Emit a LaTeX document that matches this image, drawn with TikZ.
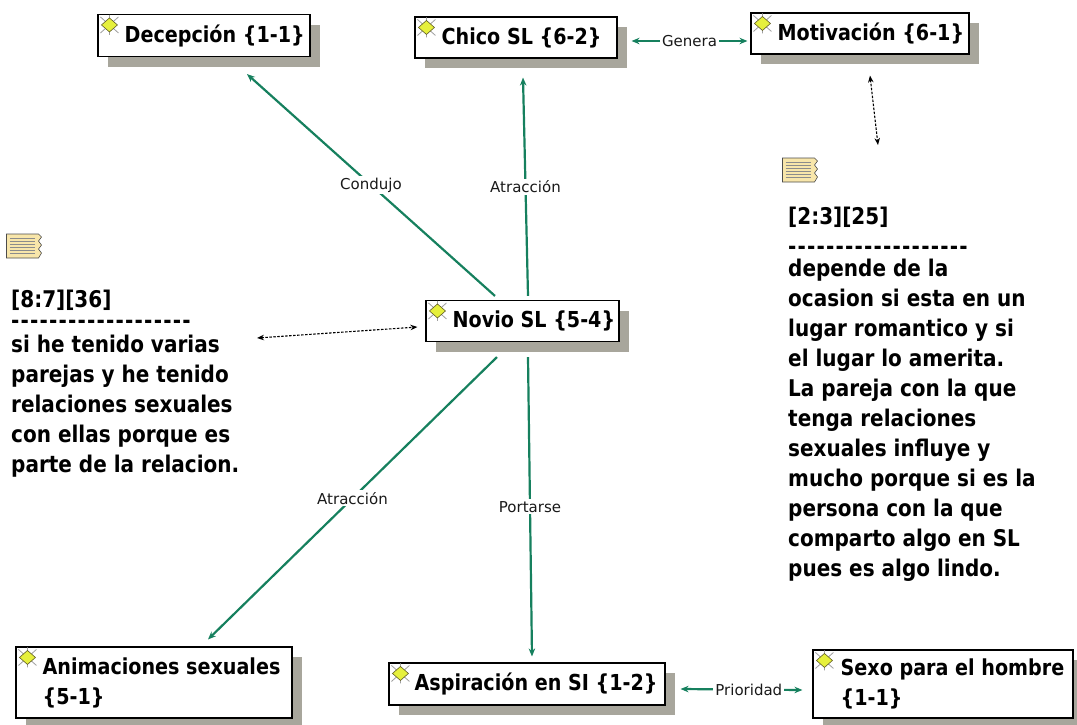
\documentclass[tikz,border=0pt]{standalone}
\usepackage{fontspec}
\newfontfamily\boldf[FakeStretch=0.87]{DejaVu Sans}
\newfontfamily\lfont{DejaVu Sans}
\usetikzlibrary{arrows.meta,shadows}
\definecolor{lnk}{RGB}{22,128,94}
\definecolor{shd}{RGB}{168,166,156}
\definecolor{notefill}{RGB}{248,230,170}
\definecolor{iconfill}{RGB}{230,240,60}
\newcommand\hy{-\kern1.2pt}
\newcommand\dashline{\hy\hy\hy\hy\hy\hy\hy\hy\hy\hy\hy\hy\hy\hy\hy\hy\hy\hy\hy}
\tikzset{
  box/.style={draw=black, line width=1.1pt, fill=white, inner sep=0pt,
    general shadow={fill=shd, shadow xshift=10pt, shadow yshift=-10pt}},
  ttl/.style={font=\boldf\bfseries\fontsize{22}{30}\selectfont, inner sep=0pt, anchor=west, align=left},
  notetxt/.style={font=\boldf\bfseries\fontsize{23}{30}\selectfont, inner sep=0pt, anchor=base west},
  dashtxt/.style={notetxt, text height=10pt, text depth=0pt},
  link/.style={draw=lnk, line width=2.2pt, -{Stealth[length=8pt,width=6.5pt]}},
  linkb/.style={draw=lnk, line width=2.2pt, {Stealth[length=8pt,width=6.5pt]}-{Stealth[length=8pt,width=6.5pt]}},
  dlink/.style={draw=black, line width=1.1pt, dash pattern=on 2.5pt off 1.5pt,
    {Stealth[length=7pt,width=5.5pt]}-{Stealth[length=7pt,width=5.5pt]}},
  lbl/.style={fill=white, inner sep=2pt, font=\lfont\fontsize{15}{18}\selectfont, text=black!90},
  codeicon/.pic={
    \draw[gray!75, line width=0.8pt] (-9,-8)--(9,8) (-9,8)--(9,-8) (0,-10)--(0,10);
    \draw[draw=olive!60!black, fill=iconfill, line width=0.6pt] (0,-7)--(8,0)--(0,7)--(-8,0)--cycle;
  },
  noteicon/.pic={
    \draw[fill=notefill, draw=black!70, line width=0.6pt]
      (-18,-12) -- (14,-12) -- (17,-9) -- (14,-5) -- (17,-1) -- (14,3) -- (17,7) -- (14,12) -- (-18,12) -- cycle;
    \foreach \yy in {-8,-5,...,8} \draw[black!45, line width=0.4pt] (-15,\yy) -- (10,\yy);
  }
}
\begin{document}
\begin{tikzpicture}[x=1pt,y=-1pt]
\useasboundingbox (0,0) rectangle (1077,724);

% boxes
\node[box, minimum width=212pt, minimum height=42pt] (dec) at (204,35.5) {};
\node[box, minimum width=202pt, minimum height=41pt] (chi) at (516,37.5) {};
\node[box, minimum width=218pt, minimum height=41pt] (mot) at (860,33.5) {};
\node[box, minimum width=193pt, minimum height=41pt] (nov) at (522.5,321) {};
\node[box, minimum width=276pt, minimum height=71pt] (ani) at (154,682.5) {};
\node[box, minimum width=276pt, minimum height=42pt] (asp) at (527,684) {};
\node[box, minimum width=260pt, minimum height=68pt] (sex) at (943,684) {};

% icons
\foreach \n in {dec,chi,mot,nov,ani,asp,sex}
  \pic at ([xshift=12pt,yshift=-11pt]\n.north west) {codeicon};

% titles
\node[ttl] (dect) at ([xshift=27pt]dec.west) {Decepción \{1-1\}};
\node[ttl] (chit) at ([xshift=27pt]chi.west) {Chico SL \{6-2\}};
\node[ttl] (mott) at ([xshift=27pt]mot.west) {Motivación \{6-1\}};
\node[ttl] (novt) at ([xshift=27pt]nov.west) {Novio SL \{5-4\}};
\node[ttl] (anit) at ([xshift=27pt]ani.west) {Animaciones sexuales\\\{5-1\}};
\node[ttl] (aspt) at ([xshift=26pt]asp.west) {Aspiración en SI \{1-2\}};
\node[ttl] (sext) at ([xshift=28pt]sex.west) {Sexo para el hombre\\\{1-1\}};

% green links
\draw[link] ([xshift=-27.5pt,yshift=4pt]nov.north) -- node[lbl] (lcon) {Condujo} ([xshift=43pt,yshift=-17pt]dec.south);
\draw[link] ([xshift=5.5pt,yshift=4pt]nov.north) -- node[lbl] (latr1) {Atracción} ([xshift=7pt,yshift=-19pt]chi.south);
\draw[link] ([xshift=-25.5pt,yshift=-15pt]nov.south) -- node[lbl] (latr2) {Atracción} ([xshift=54pt,yshift=7pt]ani.north);
\draw[link] ([xshift=5.5pt,yshift=-15pt]nov.south) -- node[lbl] (lpor) {Portarse} ([xshift=5pt,yshift=6pt]asp.north);
\draw[linkb] ([xshift=14pt,yshift=-3.5pt]chi.east) -- node[lbl] (lgen) {Genera} ([xshift=-3pt,yshift=-7.5pt]mot.west);
\draw[linkb] ([xshift=15pt,yshift=-5pt]asp.east) -- node[lbl,pos=0.56] (lpri) {Prioridad} ([xshift=-10pt,yshift=-6pt]sex.west);

% notes
\pic at (24.5,246) {noteicon};
\pic at (800.5,170) {noteicon};
\node[notetxt] (lhead) at (11,307) {[8:7][36]};
\node[dashtxt] (ldash) at (11,328) {\dashline};
\foreach \t [count=\i] in {si he tenido varias, parejas y he tenido, relaciones sexuales, con ellas porque es, parte de la relacion.}
  \node[notetxt] (lb\i) at (11,{352+30*(\i-1)}) {\t};
\node[notetxt] (rhead) at (788,224) {[2:3][25]};
\node[dashtxt] (rdash) at (788,254) {\dashline};
\foreach \t [count=\i] in {depende de la, ocasion si esta en un, lugar romantico y si, el lugar lo amerita., La pareja con la que, tenga relaciones, sexuales influye y, mucho porque si es la, persona con la que, comparto algo en SL, pues es algo lindo.}
  \node[notetxt] (rb\i) at (788,{276+30*(\i-1)}) {\t};

% dashed links
\coordinate (lnE) at (257,338);
\coordinate (rnN) at (878,145);
\draw[dlink] (lnE) -- ([xshift=-8pt,yshift=-6pt]nov.west);
\draw[dlink] ([xshift=10pt,yshift=-21pt]mot.south) -- (rnN);
\end{tikzpicture}
\end{document}
